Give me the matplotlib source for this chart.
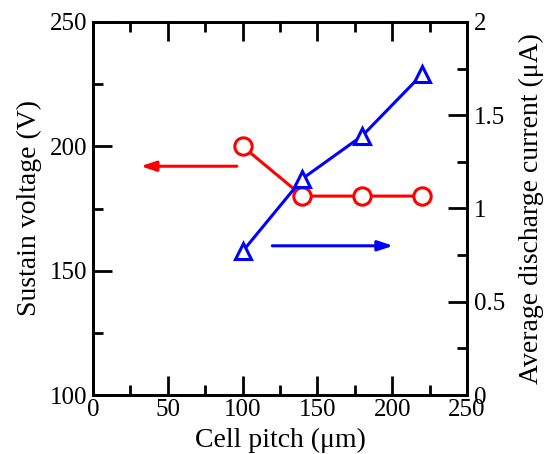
import numpy as np
import matplotlib.pyplot as plt
from matplotlib.ticker import MultipleLocator, FormatStrFormatter

# ---------------------------------------------
# Dados
# ---------------------------------------------
pitch = [100, 140, 180, 220]
tensao = [200, 180, 180, 180]
corrente = [0.77, 1.16, 1.39, 1.72]

plt.rcParams['font.family'] = ['Liberation Serif', 'DejaVu Serif']

fig = plt.figure(figsize=(5.5, 4.54), dpi=100)
ax = fig.add_axes([93/550, 1-395/454, 374/550, 373/454])
ax2 = ax.twinx()

ax.plot(pitch, tensao, '-o', color='red', lw=2.2, ms=12.5, mfc='white', mew=2.2, zorder=3)
ax2.plot(pitch, corrente, '-^', color='blue', lw=2.2, ms=12, mfc='white', mew=2.2, zorder=3)

# setas
ax.annotate('', xy=(30, 192), xytext=(98, 192),
            arrowprops=dict(arrowstyle='-|>,head_length=0.9,head_width=0.3', color='red', lw=2.2))
ax2.annotate('', xy=(202.5, 0.8), xytext=(118, 0.8),
             arrowprops=dict(arrowstyle='-|>,head_length=0.9,head_width=0.3', color='blue', lw=2.2))

ax.set_xlim(0, 250)
ax.set_ylim(100, 250)
ax2.set_ylim(0, 2)

ax.xaxis.set_major_locator(MultipleLocator(50))
ax.xaxis.set_minor_locator(MultipleLocator(25))
ax.yaxis.set_major_locator(MultipleLocator(50))
ax.yaxis.set_minor_locator(MultipleLocator(25))
ax2.yaxis.set_major_locator(MultipleLocator(0.5))
ax2.yaxis.set_minor_locator(MultipleLocator(0.25))
ax2.yaxis.set_major_formatter(FormatStrFormatter('%g'))

for a in (ax, ax2):
    for s in a.spines.values():
        s.set_linewidth(2)
ax.tick_params(which='both', direction='in', width=2, labelsize=18, top=True, right=False)
ax.tick_params(axis='y', pad=4)
ax.tick_params(axis='x', pad=3)
ax.tick_params(which='major', length=14)
ax.tick_params(which='minor', length=7)
ax2.tick_params(which='both', direction='in', width=2, labelsize=18, pad=5)
ax2.tick_params(which='major', length=14)
ax2.tick_params(which='minor', length=7)

ax.set_xlabel('Cell pitch (μm)', fontsize=20, labelpad=4.5)
ax.set_ylabel('Sustain voltage (V)', fontsize=20, labelpad=6)
ax2.set_ylabel('Average discharge current (μA)', fontsize=20, labelpad=10)

fig.savefig('out.png', dpi=100)
